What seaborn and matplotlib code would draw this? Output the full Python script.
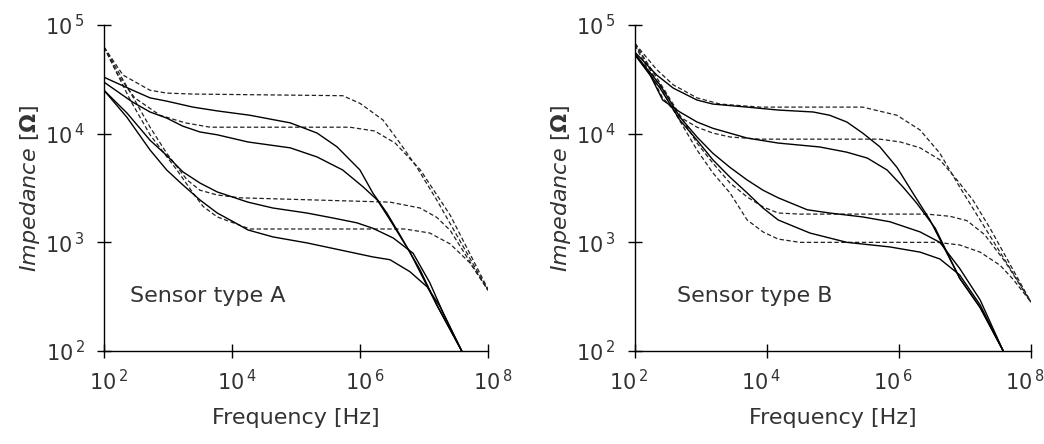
import matplotlib
matplotlib.use("Agg")
import matplotlib.pyplot as plt
from matplotlib.transforms import ScaledTranslation
import seaborn as sns
import numpy as np

# values are log10(frequency / Hz) and log10(impedance / Ohm)
# ---- Sensor type A ----
a_meas1_f = [2.0, 2.45, 2.72, 2.98, 3.39, 3.77, 4.28, 4.91, 5.33, 5.64, 6.0, 6.2, 6.42, 6.625, 6.94, 7.2, 7.59]
a_meas1_z = [4.52, 4.40, 4.33, 4.30, 4.245, 4.21, 4.17, 4.10, 4.006, 3.88, 3.666, 3.455, 3.27, 3.068, 2.746, 2.424, 2.0]
a_meas2_f = [2.0, 2.45, 2.72, 2.98, 3.23, 3.5, 3.77, 4.25, 4.91, 5.33, 5.73, 6.05, 6.27, 6.47, 6.78, 7.2, 7.59]
a_meas2_z = [4.475, 4.29, 4.20, 4.144, 4.07, 4.016, 3.99, 3.924, 3.87, 3.786, 3.666, 3.51, 3.39, 3.206, 2.91, 2.424, 2.0]
a_meas3_f = [2.0, 2.36, 2.72, 2.98, 3.23, 3.5, 3.77, 4.25, 4.64, 5.17, 5.58, 5.95, 6.2, 6.52, 6.83, 7.09, 7.30, 7.59]
a_meas3_z = [4.40, 4.19, 3.94, 3.80, 3.65, 3.546, 3.464, 3.37, 3.316, 3.27, 3.224, 3.18, 3.13, 3.04, 2.90, 2.63, 2.35, 2.0]
a_meas4_f = [2.0, 2.36, 2.72, 2.98, 3.23, 3.5, 3.77, 4.02, 4.25, 4.64, 5.17, 5.69, 6.2, 6.47, 6.78, 7.05, 7.25, 7.59]
a_meas4_z = [4.40, 4.15, 3.85, 3.666, 3.53, 3.39, 3.27, 3.19, 3.114, 3.05, 2.995, 2.93, 2.866, 2.84, 2.73, 2.59, 2.41, 2.0]

a_model1_f = [2.0, 2.297, 2.72, 2.98, 3.39, 5.73, 6.0, 6.36, 6.625, 6.89, 7.2, 8.0]
a_model1_z = [4.798, 4.54, 4.40, 4.374, 4.365, 4.35, 4.28, 4.126, 3.914, 3.69, 3.39, 2.56]
a_model2_f = [2.0, 2.22, 2.48, 2.875, 3.27, 3.66, 5.84, 6.23, 6.55, 6.94, 7.41, 8.0]
a_model2_z = [4.798, 4.54, 4.33, 4.17, 4.10, 4.06, 4.06, 4.025, 3.914, 3.67, 3.25, 2.57]
a_model3_f = [2.0, 2.45, 2.72, 2.98, 3.30, 3.5, 3.77, 4.125, 6.47, 6.94, 7.2, 7.41, 7.67, 8.0]
a_model3_z = [4.798, 4.34, 4.06, 3.82, 3.574, 3.48, 3.436, 3.41, 3.37, 3.316, 3.23, 3.11, 2.866, 2.56]
a_model4_f = [2.0, 2.41, 2.72, 3.14, 3.39, 3.55, 3.77, 4.02, 4.28, 6.70, 7.09, 7.41, 7.72, 8.0]
a_model4_z = [4.798, 4.31, 3.99, 3.666, 3.455, 3.33, 3.234, 3.18, 3.123, 3.123, 3.086, 2.985, 2.81, 2.56]

# ---- Sensor type B ----
b_meas1_f = [2.0, 2.33, 2.58, 2.94, 3.18, 3.70, 4.17, 4.70, 4.95, 5.21, 5.45, 5.71, 5.97, 6.21, 6.47, 6.92, 7.23, 7.58]
b_meas1_z = [4.75, 4.54, 4.42, 4.31, 4.273, 4.245, 4.218, 4.20, 4.17, 4.108, 4.006, 3.88, 3.69, 3.455, 3.206, 2.67, 2.40, 2.0]
b_meas2_f = [2.0, 2.23, 2.42, 2.68, 2.94, 3.18, 3.70, 4.17, 4.80, 5.21, 5.52, 5.82, 6.06, 6.27, 6.55, 6.92, 7.23, 7.58]
b_meas2_z = [4.74, 4.54, 4.31, 4.20, 4.108, 4.05, 3.96, 3.914, 3.878, 3.83, 3.776, 3.666, 3.51, 3.36, 3.13, 2.67, 2.40, 2.0]
b_meas3_f = [2.0, 2.38, 2.68, 2.94, 3.18, 3.44, 3.70, 3.94, 4.17, 4.61, 4.95, 5.45, 5.86, 6.32, 6.62, 6.92, 7.23, 7.58]
b_meas3_z = [4.733, 4.45, 4.154, 3.97, 3.82, 3.69, 3.574, 3.48, 3.41, 3.30, 3.27, 3.234, 3.19, 3.096, 3.0, 2.76, 2.47, 2.0]
b_meas4_f = [2.0, 2.38, 2.68, 2.94, 3.18, 3.44, 3.70, 3.94, 4.17, 4.65, 5.21, 5.86, 6.32, 6.62, 6.92, 7.23, 7.58]
b_meas4_z = [4.724, 4.42, 4.126, 3.94, 3.76, 3.60, 3.455, 3.316, 3.206, 3.086, 3.0, 2.958, 2.91, 2.847, 2.70, 2.424, 2.0]

b_model1_f = [2.0, 2.33, 2.58, 2.94, 3.29, 3.89, 5.45, 5.97, 6.32, 6.62, 6.92, 7.23, 8.0]
b_model1_z = [4.83, 4.59, 4.45, 4.33, 4.273, 4.245, 4.245, 4.17, 4.034, 3.82, 3.51, 3.206, 2.45]
b_model2_f = [2.0, 2.42, 2.68, 2.94, 3.18, 3.44, 3.89, 5.71, 6.02, 6.32, 6.62, 6.88, 7.12, 7.38, 8.0]
b_model2_z = [4.816, 4.33, 4.154, 4.06, 4.006, 3.97, 3.95, 3.95, 3.924, 3.87, 3.76, 3.574, 3.39, 3.13, 2.45]
b_model3_f = [2.0, 2.45, 2.94, 3.18, 3.44, 3.70, 3.94, 4.17, 4.50, 6.42, 6.77, 7.03, 7.30, 7.61, 8.0]
b_model3_z = [4.83, 4.40, 3.914, 3.73, 3.546, 3.418, 3.326, 3.27, 3.26, 3.26, 3.24, 3.20, 3.07, 2.82, 2.45]
b_model4_f = [2.0, 2.45, 2.94, 3.18, 3.44, 3.70, 3.94, 4.17, 4.50, 6.58, 6.92, 7.23, 7.53, 7.73, 8.0]
b_model4_z = [4.83, 4.356, 3.85, 3.64, 3.455, 3.206, 3.096, 3.03, 3.0, 3.0, 2.976, 2.91, 2.79, 2.66, 2.45]

panel_labels = ["Sensor type A", "Sensor type B"]
x_ticks = [2, 4, 6, 8]
y_ticks = [2, 3, 4, 5]

panels = [
    ([(a_meas1_f, a_meas1_z), (a_meas2_f, a_meas2_z), (a_meas3_f, a_meas3_z), (a_meas4_f, a_meas4_z)],
     [(a_model1_f, a_model1_z), (a_model2_f, a_model2_z), (a_model3_f, a_model3_z), (a_model4_f, a_model4_z)]),
    ([(b_meas1_f, b_meas1_z), (b_meas2_f, b_meas2_z), (b_meas3_f, b_meas3_z), (b_meas4_f, b_meas4_z)],
     [(b_model1_f, b_model1_z), (b_model2_f, b_model2_z), (b_model3_f, b_model3_z), (b_model4_f, b_model4_z)]),
]

sns.set_style("ticks")
plt.rcParams['font.family'] = ['DejaVu Sans']
plt.rcParams['mathtext.fontset'] = 'dejavusans'

fig = plt.figure(figsize=(10.44, 4.44), dpi=100)
ax_rects = [[0.0996, 0.2095, 0.3678, 0.734], [0.6082, 0.2095, 0.3793, 0.734]]
label_x = [0.068, 0.106]
xtick_shift = [5, -6]   # px
text_col = "#333333"

for i, (rect, (meas, models), label) in enumerate(zip(ax_rects, panels, panel_labels)):
    ax = fig.add_axes(rect)
    for f, z in models:
        sns.lineplot(x=10 ** np.array(f), y=10 ** np.array(z), ax=ax, color="#222222",
                     lw=0.9, linestyle=(0, (3.5, 2.0)), sort=False, estimator=None)
    for f, z in meas:
        sns.lineplot(x=10 ** np.array(f), y=10 ** np.array(z), ax=ax, color="black",
                     lw=1.0, sort=False, estimator=None)
    ax.set_xscale("log")
    ax.set_yscale("log")
    ax.set_xlim(1e2, 1e8)
    ax.set_ylim(1e2, 1e5)
    ax.set_xticks([10.0 ** t for t in x_ticks])
    ax.set_xticklabels([r"10$^{\,%d}$" % t for t in x_ticks])
    ax.set_yticks([10.0 ** t for t in y_ticks])
    ax.set_yticklabels([r"10$^{\,%d}$" % t for t in y_ticks])
    ax.minorticks_off()
    ax.tick_params(direction="inout", length=10, width=1.0, colors="black",
                   labelcolor=text_col, labelsize=15)
    ax.tick_params(axis="x", pad=8)
    ax.tick_params(axis="y", pad=9)
    shift = ScaledTranslation(xtick_shift[i] / 100, 0, fig.dpi_scale_trans)
    for lbl in ax.get_xticklabels():
        lbl.set_transform(lbl.get_transform() + shift)
    for s in ["top", "right"]:
        ax.spines[s].set_visible(False)
    for s in ["left", "bottom"]:
        ax.spines[s].set_color("black")
        ax.spines[s].set_linewidth(1.0)
    ax.set_xlabel("Frequency [Hz]", fontsize=16, color=text_col, labelpad=10)
    ax.set_ylabel(r"$\mathit{Impedance}\ [\mathbf{\Omega}]$", fontsize=16, color=text_col, labelpad=2)
    ax.text(label_x[i], 0.17, label, transform=ax.transAxes, fontsize=16, color=text_col,
            ha="left", va="center")

fig.savefig("out.png", dpi=100)
